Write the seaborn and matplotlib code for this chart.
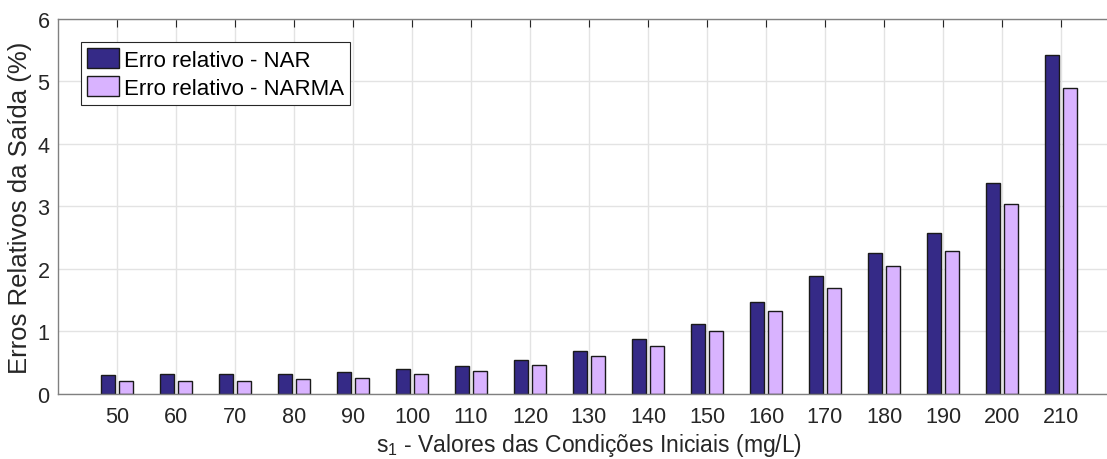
import numpy as np
import pandas as pd
import matplotlib
matplotlib.use("Agg")
import matplotlib.pyplot as plt
import seaborn as sns
from matplotlib.patches import Patch

# Initial-condition values and relative output errors (%)
condicoes = [50, 60, 70, 80, 90, 100, 110, 120, 130, 140, 150, 160, 170, 180, 190, 200, 210]
erro_nar = [0.30, 0.31, 0.31, 0.32, 0.34, 0.39, 0.45, 0.54, 0.68, 0.87, 1.12, 1.47,
            1.88, 2.26, 2.57, 3.37, 5.42]
erro_narma = [0.20, 0.20, 0.21, 0.23, 0.25, 0.31, 0.37, 0.46, 0.60, 0.77, 1.01, 1.32,
              1.70, 2.04, 2.29, 3.03, 4.90]
series = ["Erro relativo - NAR", "Erro relativo - NARMA"]
cores = ["#352A87", "#D9B3FF"]

df = pd.DataFrame({
    "cond": [str(c) for c in condicoes] * 2,
    "erro": erro_nar + erro_narma,
    "serie": [series[0]] * len(condicoes) + [series[1]] * len(condicoes),
})

sns.set_theme(style="white")
plt.rcParams["font.family"] = ["Liberation Sans", "DejaVu Sans"]
plt.rcParams["mathtext.default"] = "regular"

fig = plt.figure(figsize=(11.07, 4.60), dpi=100)
ax = fig.add_axes([58 / 1107, 65.3 / 460, (1120 - 58) / 1107, 374.7 / 460])

sns.barplot(data=df, x="cond", y="erro", hue="serie", order=[str(c) for c in condicoes],
            hue_order=series, palette=cores, saturation=1, width=0.6, gap=0.23,
            edgecolor="#1a1a1a", linewidth=1.0, ax=ax, legend=False)

ax.set_xlim(-1, len(condicoes))
ax.set_ylim(0, 6)
ax.set_yticks(range(0, 7))
ax.grid(True, color="#e3e3e3", linewidth=1.0)
ax.set_axisbelow(True)

for sp in ax.spines.values():
    sp.set_color("#808080")
    sp.set_linewidth(1.0)

ax.tick_params(axis="both", direction="in", length=6, width=0.8, color="#262626",
               labelsize=15.6, labelcolor="#262626", top=True, right=True)
ax.tick_params(axis="x", pad=9)
ax.tick_params(axis="y", pad=6)

ax.set_xlabel("s$_1$ - Valores das Condições Iniciais (mg/L)", fontsize=16.5,
              color="#262626", labelpad=3)
ax.set_ylabel("Erros Relativos da Saída (%)", fontsize=18.5, color="#262626", labelpad=4)

handles = [Patch(facecolor=c, edgecolor="#1a1a1a", linewidth=1.0) for c in cores]
leg = ax.legend(handles, series, loc="upper left", bbox_to_anchor=(0.0217, 0.9386),
                prop={"size": 16}, frameon=True, fancybox=False, framealpha=1,
                edgecolor="#262626", handlelength=1.45, handleheight=1.0,
                handletextpad=0.22, borderpad=0.27, labelspacing=0.25,
                borderaxespad=0)
leg.get_frame().set_linewidth(0.8)
for t in leg.get_texts():
    t.set_color("#000000")

fig.savefig("out.png", dpi=100)
